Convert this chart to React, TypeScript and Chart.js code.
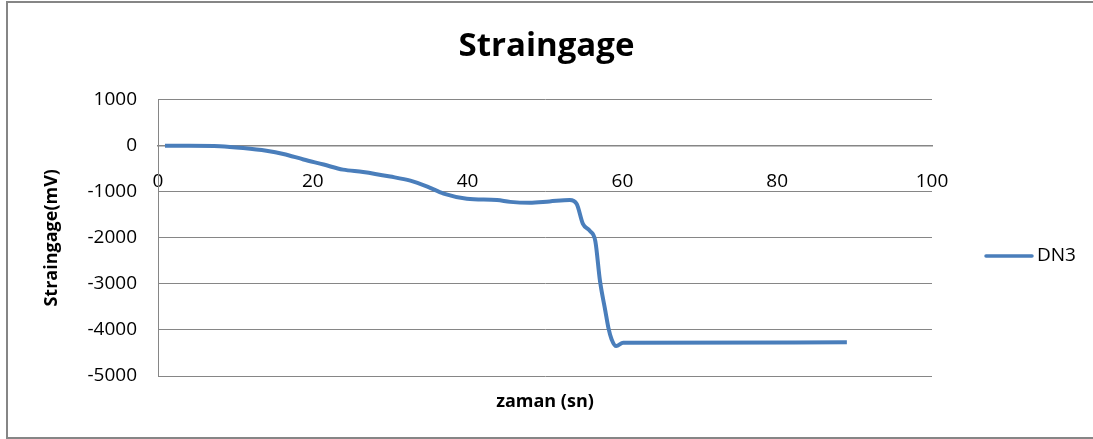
import React, { useEffect, useRef } from "react";
import { Chart, registerables } from "chart.js";

Chart.register(...registerables);

const seriesName = "DN3";
const timeValues = [
  0.9, 4, 8, 11, 14, 16.2, 18.8, 21.4, 23.9, 26.5, 30, 32.6, 34.8, 36.9, 39.9,
  43.8, 45.5, 48, 50.6, 53.2, 54.1, 54.9, 55.8, 56.5, 57.1, 57.8, 58.2, 58.6,
  59.2, 60.1, 89,
];
const strainValues = [
  0, 0, -10, -50, -110, -180, -300, -410, -520, -570, -670, -760, -890, -1040,
  -1150, -1180, -1220, -1240, -1210, -1180, -1267, -1700, -1850, -2070, -2930,
  -3590, -3960, -4200, -4350, -4280, -4270,
];
const xTicks = [0, 20, 40, 60, 80, 100];
const yTicks = [1000, 0, -1000, -2000, -3000, -4000, -5000];

const FONT = "'Open Sans', 'DejaVu Sans', sans-serif";
const GRID = "#868686";
const LINE = "#4a7ebb";

const legendPlugin = {
  id: "sideLegend",
  afterDraw(chart: any) {
    const ctx = chart.ctx;
    const ds = chart.data.datasets[0];
    ctx.save();
    ctx.strokeStyle = ds.borderColor;
    ctx.lineWidth = 3.5;
    ctx.lineCap = "round";
    ctx.beginPath();
    ctx.moveTo(986, 256);
    ctx.lineTo(1032, 256);
    ctx.stroke();
    ctx.fillStyle = "#000";
    ctx.font = `19px ${FONT}`;
    ctx.textBaseline = "middle";
    ctx.textAlign = "left";
    ctx.fillText(ds.label, 1037, 256);
    ctx.restore();
  },
};

export default function App() {
  const ref = useRef<HTMLCanvasElement | null>(null);

  useEffect(() => {
    document.body.style.margin = "0";
    document.body.style.overflow = "hidden";
    document.documentElement.style.overflow = "hidden";
    const canvas = ref.current;
    if (!canvas) return;
    const points = timeValues.map((x, i) => ({ x, y: strainValues[i] }));
    const chart = new Chart(canvas, {
      type: "line",
      data: {
        datasets: [
          {
            label: seriesName,
            data: points,
            borderColor: LINE,
            backgroundColor: LINE,
            borderWidth: 4,
            pointRadius: 0,
            cubicInterpolationMode: "monotone",
            xAxisID: "x",
            yAxisID: "y",
          },
        ],
      },
      options: {
        animation: false,
        responsive: false,
        maintainAspectRatio: false,
        layout: { padding: 0 },
        plugins: {
          legend: { display: false },
          tooltip: { enabled: false },
          title: {
            display: true,
            text: "Straingage",
            color: "#000",
            font: { family: FONT, size: 33, weight: "bold" },
            padding: { top: 27, bottom: 33 },
          },
        },
        scales: {
          x: {
            type: "linear",
            position: "bottom",
            min: 0,
            max: 100,
            ticks: { display: false, stepSize: 20 },
            grid: { display: false },
            border: { display: false },
            title: {
              display: true,
              text: "zaman (sn)",
              color: "#000",
              font: { family: FONT, size: 18, weight: "bold" },
              padding: { top: 0, bottom: 26 },
            },
            afterFit(scale: any) {
              scale.height = 63;
            },
          },
          x2: {
            type: "linear",
            position: { y: 0 },
            min: 0,
            max: 100,
            afterBuildTicks(scale: any) {
              scale.ticks = xTicks.map((v) => ({ value: v }));
            },
            ticks: {
              color: "#000",
              font: { family: FONT, size: 19 },
              padding: 25,
              maxRotation: 0,
              callback: (v: any) => String(v),
            },
            grid: { display: false, drawTicks: false },
            border: { display: true, color: GRID, width: 1.5 },
          },
          y: {
            type: "linear",
            position: "left",
            min: -5000,
            max: 1000,
            afterBuildTicks(scale: any) {
              scale.ticks = yTicks.map((v) => ({ value: v }));
            },
            ticks: {
              color: "#000",
              font: { family: FONT, size: 19 },
              padding: 21,
              callback: (v: any) => String(v),
            },
            grid: { color: GRID, lineWidth: 1, drawTicks: false },
            border: { display: true, color: GRID, width: 1 },
            title: {
              display: true,
              text: "Straingage(mV)",
              color: "#000",
              font: { family: FONT, size: 18, weight: "bold" },
              padding: { top: 41, bottom: 0 },
            },
            afterFit(scale: any) {
              scale.width = 158;
            },
          },
          ySpace: {
            type: "linear",
            position: "right",
            min: -5000,
            max: 1000,
            ticks: { display: false },
            grid: { display: false, drawTicks: false },
            border: { display: false },
            afterFit(scale: any) {
              scale.width = 161;
            },
          },
        },
      },
      plugins: [legendPlugin],
    });
    return () => chart.destroy();
  }, []);

  return (
    <div style={{ position: "relative", width: 1093, height: 439, overflow: "hidden", background: "#fff" }}>
      <canvas ref={ref} width={1093} height={439} style={{ position: "absolute", left: 0, top: 0 }} />
      <div
        style={{
          position: "absolute",
          left: 6,
          top: 1,
          width: 1085,
          height: 434,
          borderLeft: "2px solid #868686",
          borderTop: "2px solid #868686",
          borderBottom: "2px solid #868686",
          pointerEvents: "none",
        }}
      />
    </div>
  );
}
